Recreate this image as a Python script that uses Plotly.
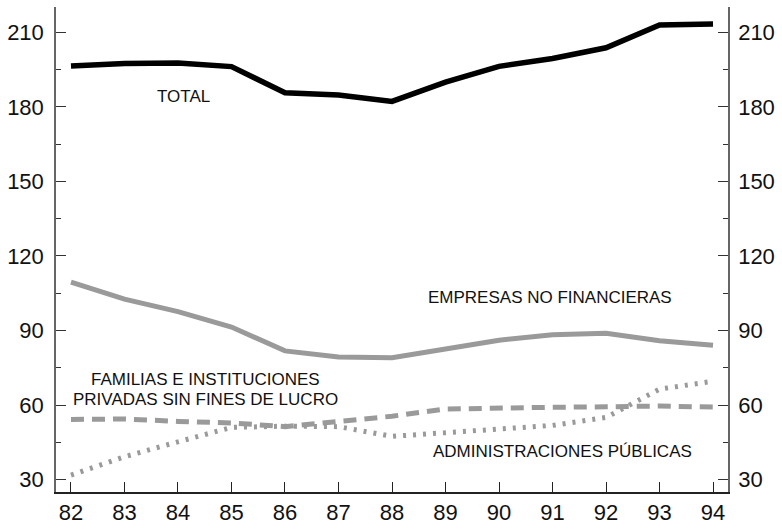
import plotly.graph_objects as go

years = [82, 83, 84, 85, 86, 87, 88, 89, 90, 91, 92, 93, 94]
year_labels = ["82", "83", "84", "85", "86", "87", "88", "89", "90", "91", "92", "93", "94"]

total = [196.5, 197.5, 197.7, 196.2, 185.7, 184.8, 182.2, 190.0, 196.3, 199.5, 203.8, 213.0, 213.4]
empresas = [109.5, 102.6, 97.6, 91.4, 81.8, 79.3, 79.0, 82.4, 86.1, 88.3, 88.9, 85.9, 84.1]
familias = [54.2, 54.4, 53.4, 52.8, 51.3, 53.6, 55.5, 58.4, 59.0, 59.1, 59.3, 59.6, 59.2]
administraciones = [31.8, 39.2, 45.2, 51.0, 51.5, 51.3, 47.4, 48.8, 50.3, 51.8, 55.0, 66.4, 69.6]

y_ticks = [30, 60, 90, 120, 150, 180, 210]

GRAY = "#9a9a9a"
FONT = "Liberation Sans, Arial, sans-serif"

fig = go.Figure()
fig.add_trace(go.Scatter(x=years, y=familias, mode="lines",
                         line=dict(color=GRAY, width=5, dash="13px,8px"), hoverinfo="skip"))
fig.add_trace(go.Scatter(x=years, y=administraciones, mode="lines",
                         line=dict(color=GRAY, width=5, dash="3px,7px"), hoverinfo="skip"))
fig.add_trace(go.Scatter(x=years, y=empresas, mode="lines",
                         line=dict(color=GRAY, width=5), hoverinfo="skip"))
fig.add_trace(go.Scatter(x=years, y=total, mode="lines",
                         line=dict(color="black", width=5.5), hoverinfo="skip"))
# invisible trace to activate the right-hand axis
fig.add_trace(go.Scatter(x=years, y=total, mode="lines", yaxis="y2",
                         line=dict(color="rgba(0,0,0,0)", width=0), hoverinfo="skip"))

yr = [25, 220.2]
common_y = dict(
    range=yr, tickvals=y_ticks, ticktext=[str(v) for v in y_ticks],
    ticks="inside", ticklen=10, tickwidth=1, tickcolor="#333",
    showline=True, linecolor="#666", linewidth=1.5,
    showgrid=False, zeroline=False,
    tickfont=dict(family=FONT, size=22, color="#111"),
    minor=dict(dtick=15, tick0=15, ticks="inside", ticklen=5, tickcolor="#333", showgrid=False),
)

fig.update_layout(
    width=782, height=532,
    margin=dict(l=53, r=45, t=7, b=32),
    paper_bgcolor="white", plot_bgcolor="white",
    showlegend=False,
    font=dict(family=FONT, color="#111"),
    xaxis=dict(
        range=[81.72, 94.28], tickvals=years, ticktext=year_labels,
        ticks="inside", ticklen=10, tickcolor="#222",
        showline=True, linecolor="#222", linewidth=1.5,
        showgrid=False, zeroline=False,
        tickfont=dict(family=FONT, size=22, color="#111"),
    ),
    yaxis=dict(side="left", ticklabelstandoff=6, **common_y),
    yaxis2=dict(side="right", overlaying="y", ticklabelstandoff=4, **common_y),
    annotations=[
        dict(x=84.107, y=184.3, text="TOTAL", showarrow=False,
             font=dict(family=FONT, size=17, color="#111")),
        dict(x=90.957, y=103.25, text="EMPRESAS NO FINANCIERAS", showarrow=False,
             font=dict(family=FONT, size=17, color="#111")),
        dict(x=84.51, y=70.2, text="FAMILIAS E INSTITUCIONES", showarrow=False,
             font=dict(family=FONT, size=17, color="#111")),
        dict(x=84.51, y=62.3, text="PRIVADAS SIN FINES DE LUCRO", showarrow=False,
             font=dict(family=FONT, size=17, color="#111")),
        dict(x=91.195, y=41.2, text="ADMINISTRACIONES PÚBLICAS", showarrow=False,
             font=dict(family=FONT, size=17, color="#111")),
    ],
)

fig.write_html("out.html", config={"displayModeBar": False},
               post_script="document.body.style.margin='0px';document.body.style.overflow='hidden';")
